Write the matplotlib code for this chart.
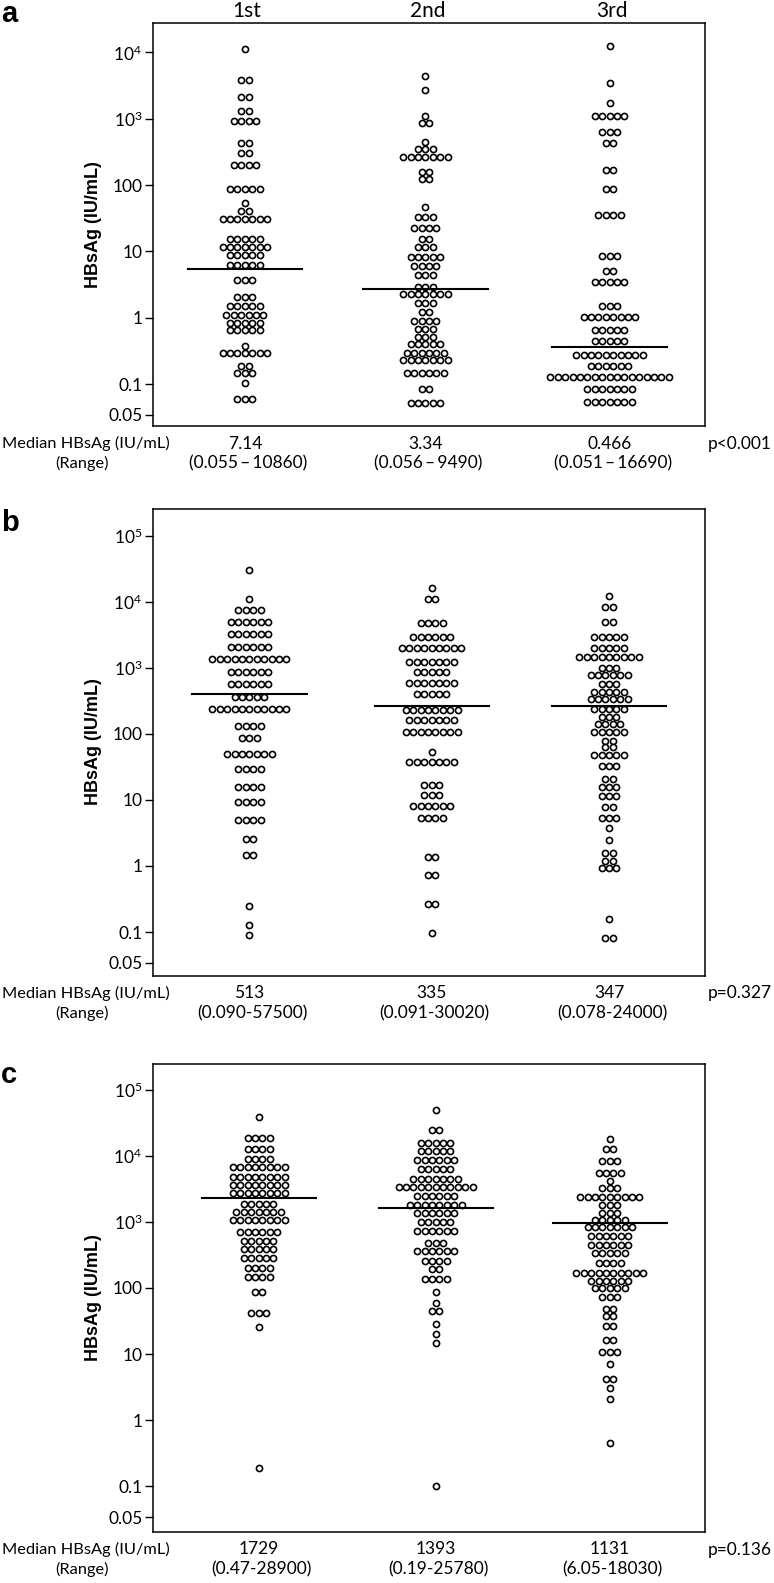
"""
HBsAg por ronda de tratamiento: tres paneles de puntos (escala log) con
la mediana de cada grupo y la tabla de medianas / rangos debajo.
"""
import numpy as np
import matplotlib
matplotlib.use("Agg")
import matplotlib.pyplot as plt

W, H = 774, 1583          # tamaño final en píxeles
DPI = 100

# ---------------------------------------------------------------------------
# Datos: (valor HBsAg IU/mL, nº de puntos en esa fila)
# ---------------------------------------------------------------------------
GROUPS = ["1st", "2nd", "3rd"]

A_1ST = [(11200, 1), (3850, 2), (2150, 2), (1320, 2), (926, 4), (436, 2),
         (302, 2), (198, 4), (87, 5), (53, 1), (40.6, 2), (30.5, 7),
         (15.2, 5), (11.6, 7), (8.7, 5), (6.24, 5), (3.74, 3), (2.07, 3),
         (1.5, 5), (1.1, 6), (0.84, 5), (0.645, 5), (0.38, 1), (0.29, 7),
         (0.19, 2), (0.145, 3), (0.105, 1), (0.059, 3)]
A_2ND = [(4420, 1), (2720, 1), (1100, 1), (853, 2), (446, 1), (350, 3),
         (268, 7), (159, 2), (124, 2), (47, 1), (33.4, 3), (22.3, 4),
         (15.2, 2), (11.7, 3), (8.3, 5), (6.0, 4), (4.4, 3), (2.94, 3),
         (2.25, 7), (1.68, 3), (1.23, 2), (0.89, 4), (0.67, 3), (0.516, 3),
         (0.4, 5), (0.296, 6), (0.23, 7), (0.148, 6), (0.083, 2), (0.051, 5)]
A_3RD = [(12700, 1), (3430, 1), (1714, 1), (1115, 5), (632, 3), (427, 2),
         (169, 2), (88, 2), (36, 4), (8.5, 3), (5.1, 2), (3.5, 5), (1.5, 3),
         (1.03, 8), (0.65, 5), (0.45, 5), (0.273, 10), (0.19, 6),
         (0.129, 17), (0.083, 7), (0.054, 7)]

B_1ST = [(30000, 1), (10800, 1), (7460, 4), (4865, 6), (3200, 6), (2030, 6),
         (1340, 11), (851, 6), (566, 6), (355, 5), (240, 11), (131, 4),
         (85.6, 3), (49.4, 7), (29.6, 4), (15.8, 4), (9.3, 4), (4.97, 4),
         (2.53, 2), (1.47, 2), (0.25, 1), (0.128, 1), (0.090, 1)]
B_2ND = [(16200, 1), (10800, 2), (4800, 4), (2890, 6), (1960, 9), (1233, 7),
         (851, 5), (582, 7), (398, 5), (229, 8), (162, 7), (107, 8),
         (53.6, 1), (37, 7), (17, 3), (11.9, 3), (8.1, 6), (5.4, 4),
         (1.35, 2), (0.73, 2), (0.266, 2), (0.096, 1)]
B_3RD = [(12300, 1), (8200, 2), (4865, 2), (2950, 5), (1960, 5), (1466, 9),
         (1000, 3), (774, 6), (566, 3), (434, 5), (333, 6), (235, 5),
         (178, 3), (139, 4), (107, 5), (78.6, 2), (63.8, 2), (47.8, 5),
         (32.6, 3), (20.4, 2), (15.8, 3), (11.4, 3), (7.9, 2), (5.4, 3),
         (3.8, 1), (2.47, 1), (1.56, 2), (1.19, 2), (0.92, 3), (0.156, 1),
         (0.080, 2)]

C_1ST = [(38000, 1), (18300, 4), (12750, 4), (8900, 4), (6670, 8),
         (4810, 8), (3600, 8), (2700, 8), (1860, 5), (1410, 7), (1070, 8),
         (710, 6), (519, 5), (385, 5), (284, 5), (199, 4), (148, 4), (86, 2),
         (42.3, 3), (25.4, 1), (0.188, 1)]
C_2ND = [(49000, 1), (24400, 2), (15700, 5), (11900, 5), (8600, 6),
         (6300, 5), (4490, 7), (3400, 11), (2460, 6), (1795, 8), (1345, 6),
         (1000, 5), (735, 6), (484, 3), (366, 6), (256, 4), (192, 2),
         (136, 4), (86, 1), (60, 1), (45, 2), (28.5, 1), (20, 1), (14.9, 1),
         (0.1, 1)]
C_3RD = [(17900, 1), (12600, 2), (8300, 3), (5530, 4), (4140, 1), (3210, 3),
         (2400, 9), (1795, 3), (1380, 3), (1070, 5), (826, 7), (611, 6),
         (452, 6), (334, 5), (236, 4), (170, 10), (129, 6), (101, 5),
         (73.8, 3), (47.6, 2), (37.7, 2), (26.6, 2), (16.4, 2), (10.8, 3),
         (7.0, 1), (4.17, 2), (3.05, 1), (2.1, 1), (0.45, 1)]

# Nivel de la línea horizontal dibujada en cada grupo (tal como aparece)
A_LINE = [5.37, 2.71, 0.365]
B_LINE = [404, 261, 261]
C_LINE = [2316, 1634, 970]

# Tabla bajo cada panel
A_MEDIAN = ["7.14", "3.34", "0.466"]
A_RANGE = ["(0.055\u2009\u2013\u200910860)", "(0.056\u2009\u2013\u20099490)",
           "(0.051\u2009\u2013\u200916690)"]
A_P = "p<0.001"
B_MEDIAN = ["513", "335", "347"]
B_RANGE = ["(0.090-57500)", "(0.091-30020)", "(0.078-24000)"]
B_P = "p=0.327"
C_MEDIAN = ["1729", "1393", "1131"]
C_RANGE = ["(0.47-28900)", "(0.19-25780)", "(6.05-18030)"]
C_P = "p=0.136"

# ---------------------------------------------------------------------------
# Maquetación (píxeles de la figura final)
# ---------------------------------------------------------------------------
BOX_LEFT, BOX_RIGHT = 152.7, 705.4
DOT_STEP_PX = 7.4          # separación horizontal entre puntos de una fila
TXT = "Lato"
BOLD = "Liberation Sans"

PANELS = [
    # top/bottom del marco en px, ylim en log10, x de cada grupo (0..3),
    # semiancho de la línea de mediana, y de la letra del panel
    dict(letter="a", data=[A_1ST, A_2ND, A_3RD], line=A_LINE,
         med=A_MEDIAN, rng=A_RANGE, p=A_P, top=23.3, bottom=426.0,
         ylog=(-1.633, 4.44), xs=[0.50, 1.48, 2.48], half=[0.31, 0.34, 0.31],
         ly=14, max_dec=4),
    dict(letter="b", data=[B_1ST, B_2ND, B_3RD], line=B_LINE,
         med=B_MEDIAN, rng=B_RANGE, p=B_P, top=508.6, bottom=975.5,
         ylog=(-1.657, 5.407), xs=[0.525, 1.514, 2.477],
         half=[0.31, 0.31, 0.31], ly=523, max_dec=5),
    dict(letter="c", data=[C_1ST, C_2ND, C_3RD], line=C_LINE,
         med=C_MEDIAN, rng=C_RANGE, p=C_P, top=1063.5, bottom=1532.0,
         ylog=(-1.688, 5.393), xs=[0.575, 1.536, 2.481],
         half=[0.31, 0.31, 0.31], ly=1075, max_dec=5),
]
# el tick "0.05" está algo más abajo que su posición logarítmica en el original
LOW_TICK_LOG = -1.467


def fx(px):
    return px / W


def fy(py):
    return 1 - py / H


def dot_rows(ax, rows, xc, step):
    """Dibuja cada fila de puntos centrada en xc."""
    xs, ys = [], []
    for val, n in rows:
        offs = (np.arange(n) - (n - 1) / 2) * step
        xs.extend(xc + offs)
        ys.extend([val] * n)
    ax.plot(xs, ys, "o", ms=4.4, mfc="white", mec="black", mew=1.2,
            clip_on=False, zorder=3)


def panel(fig, cfg):
    top, bottom = cfg["top"], cfg["bottom"]
    ax = fig.add_axes([fx(BOX_LEFT), fy(bottom), fx(BOX_RIGHT - BOX_LEFT),
                       (bottom - top) / H])
    ax.set_yscale("log")
    ax.set_xlim(0, 3)
    ax.set_ylim(10 ** cfg["ylog"][0], 10 ** cfg["ylog"][1])
    step = DOT_STEP_PX * 3 / (BOX_RIGHT - BOX_LEFT)

    for rows, xc, lv, hw in zip(cfg["data"], cfg["xs"], cfg["line"],
                                cfg["half"]):
        dot_rows(ax, rows, xc, step)
        ax.plot([xc - hw, xc + hw], [lv, lv], color="black", lw=1.5,
                zorder=4)

    ticks = [10 ** LOW_TICK_LOG, 0.1, 1, 10, 100]
    labels = ["0.05", "0.1", "1", "10", "100"]
    for d in range(3, cfg["max_dec"] + 1):
        ticks.append(10 ** d)
        labels.append(r"$\mathregular{10^{%d}}$" % d)
    ax.set_yticks(ticks)
    ax.set_yticklabels(labels, fontfamily=TXT, fontsize=12.5)
    ax.yaxis.set_minor_locator(matplotlib.ticker.NullLocator())
    ax.tick_params(axis="y", length=5.5, width=1.0, pad=2)
    ax.set_xticks([])
    for s in ax.spines.values():
        s.set_linewidth(1.1)
    ax.set_ylabel("HBsAg (IU/mL)", fontfamily=BOLD, fontweight="bold",
                  fontsize=13, labelpad=4)

    # tabla de medianas bajo el eje
    y1, y2 = bottom + 17.5, bottom + 37.5
    fig.text(fx(2), fy(y1), "Median HBsAg (IU/mL)", fontfamily=TXT,
             fontsize=11.8, ha="left", va="center")
    fig.text(fx(82), fy(y2), "(Range)", fontfamily=TXT, fontsize=11.8,
             ha="center", va="center")
    x_px = [BOX_LEFT + x * (BOX_RIGHT - BOX_LEFT) / 3 for x in cfg["xs"]]
    for xp, m, r in zip(x_px, cfg["med"], cfg["rng"]):
        fig.text(fx(xp), fy(y1), m, fontfamily=TXT, fontsize=12.5,
                 ha="center", va="center")
        fig.text(fx(xp + 3), fy(y2), r, fontfamily=TXT, fontsize=12.5,
                 ha="center", va="center")
    fig.text(fx(772), fy(y1), cfg["p"], fontfamily=TXT, fontsize=12.5,
             ha="right", va="center")
    fig.text(fx(1), fy(cfg["ly"]), cfg["letter"], fontfamily=BOLD,
             fontweight="bold", fontsize=21, ha="left", va="center")
    return ax, x_px


def main():
    plt.rcParams["font.family"] = [TXT, "DejaVu Sans"]
    fig = plt.figure(figsize=(W / DPI, H / DPI), dpi=DPI)
    for i, cfg in enumerate(PANELS):
        ax, x_px = panel(fig, cfg)
        if i == 0:
            for xp, g in zip(x_px, GROUPS):
                fig.text(fx(xp + 2), fy(11), g, fontfamily=TXT, fontsize=15,
                         ha="center", va="center")
    fig.savefig("out.png", dpi=DPI)


if __name__ == "__main__":
    main()
